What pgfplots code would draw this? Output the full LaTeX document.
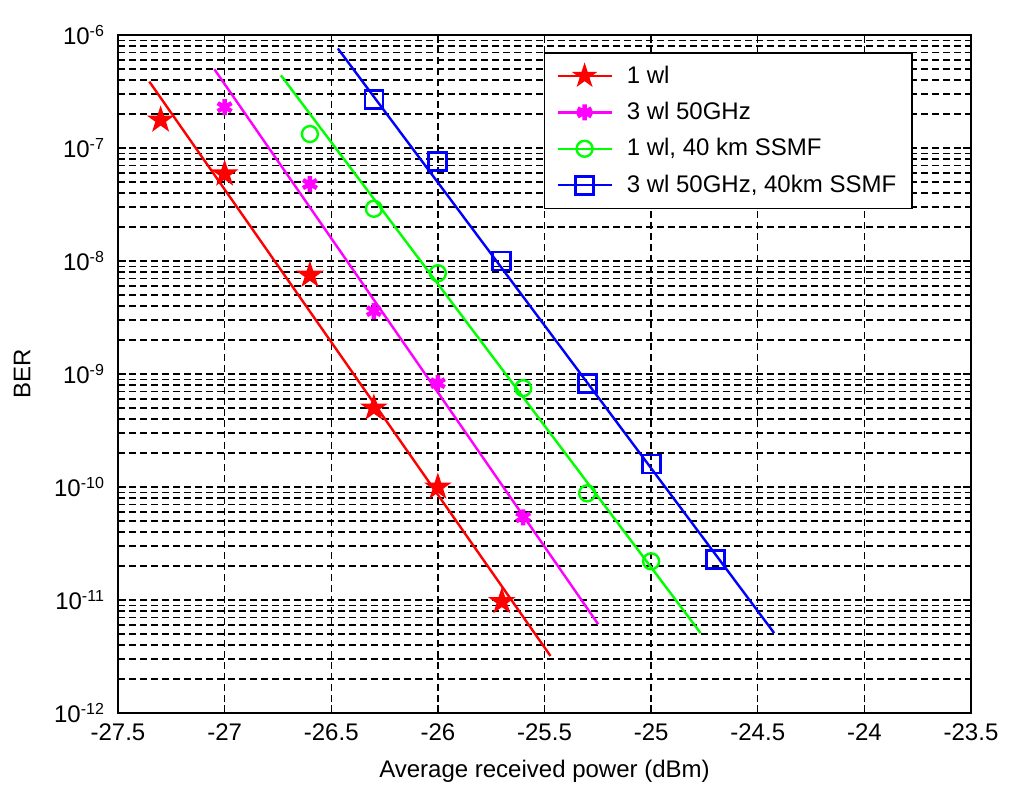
\documentclass[border=0pt]{standalone}
\usepackage{pgfplots}
\pgfplotsset{compat=1.18}
\usepackage{fontspec}
\setmainfont{Liberation Sans}

\definecolor{mred}{rgb}{1,0,0}
\definecolor{mmag}{rgb}{1,0,1}
\definecolor{mgreen}{rgb}{0,1,0}
\definecolor{mblue}{rgb}{0,0,1}

% five-pointed star marker
\pgfdeclareplotmark{pentagram}{%
  \pgfpathmoveto{\pgfpointpolar{90}{\pgfplotmarksize}}%
  \pgfpathlineto{\pgfpointpolar{126}{0.382*\pgfplotmarksize}}%
  \pgfpathlineto{\pgfpointpolar{162}{\pgfplotmarksize}}%
  \pgfpathlineto{\pgfpointpolar{198}{0.382*\pgfplotmarksize}}%
  \pgfpathlineto{\pgfpointpolar{234}{\pgfplotmarksize}}%
  \pgfpathlineto{\pgfpointpolar{270}{0.382*\pgfplotmarksize}}%
  \pgfpathlineto{\pgfpointpolar{306}{\pgfplotmarksize}}%
  \pgfpathlineto{\pgfpointpolar{342}{0.382*\pgfplotmarksize}}%
  \pgfpathlineto{\pgfpointpolar{18}{\pgfplotmarksize}}%
  \pgfpathlineto{\pgfpointpolar{54}{0.382*\pgfplotmarksize}}%
  \pgfpathclose
  \pgfusepathqfillstroke
}

\newcommand{\chartfont}{\fontsize{12}{14}\selectfont}

\begin{document}
\begin{tikzpicture}
\useasboundingbox (-59pt,-35.5pt) rectangle (446pt,356.5pt);
\begin{axis}[
  scale only axis,
  width=426.5pt, height=339pt,
  xmin=-27.5, xmax=-23.5,
  ymin=1e-12, ymax=1e-6,
  ymode=log, log basis y=10,
  xtick={-27.5,-27,-26.5,-26,-25.5,-25,-24.5,-24,-23.5},
  ytick={1e-12,1e-11,1e-10,1e-9,1e-8,1e-7,1e-6},
  minor ytick={2e-12,3e-12,4e-12,5e-12,6e-12,7e-12,8e-12,9e-12,
               2e-11,3e-11,4e-11,5e-11,6e-11,7e-11,8e-11,9e-11,
               2e-10,3e-10,4e-10,5e-10,6e-10,7e-10,8e-10,9e-10,
               2e-9,3e-9,4e-9,5e-9,6e-9,7e-9,8e-9,9e-9,
               2e-8,3e-8,4e-8,5e-8,6e-8,7e-8,8e-8,9e-8,
               2e-7,3e-7,4e-7,5e-7,6e-7,7e-7,8e-7,9e-7},
  xmajorgrids, ymajorgrids, yminorgrids,
  grid style={black, line width=0.7pt, dash pattern=on 3.5pt off 2pt},
  minor grid style={black, line width=0.7pt, dash pattern=on 3.5pt off 2pt},
  axis line style={black, line width=0.8pt},
  tick style={black, line width=0.7pt},
  major tick length=4pt, minor tick length=2.5pt,
  tick align=inside,
  /pgf/number format/assume math mode=true,
  ticklabel style={font=\chartfont},
  yticklabel={10\textsuperscript{\pgfmathparse{int(round(\tick))}\pgfmathresult}},
  yticklabel style={xshift=-3pt},
  xticklabel style={yshift=-2pt},
  xlabel={Average received power (dBm)},
  ylabel={BER},
  label style={font=\chartfont},
  xlabel style={at={(axis description cs:0.5,-0.0855)}, anchor=center},
  ylabel style={at={(axis description cs:-0.1125,0.5)}, anchor=center},
  legend cell align=left,
  legend style={at={(axis description cs:0.932,0.975)}, anchor=north east,
    draw=black, line width=0.8pt, font=\chartfont, fill=white,
    inner xsep=6pt, inner ysep=4.5pt, row sep=4pt},
]

% fitted lines (legend entries)
\addplot[mred, line width=1.2pt,
  legend image code/.code={
    \draw[mred, line width=1.2pt] (0pt,0pt) -- (27pt,0pt);
    \draw[mred, fill=mred, line width=0.8pt] plot[only marks, mark=pentagram, mark size=5.5pt] coordinates {(13.5pt,0pt)};
    \path (32pt,0pt);
  }] coordinates {(-27.353,3.87e-7) (-25.472,3.2e-12)};
\addlegendentry{1 wl}

\addplot[mmag, line width=1.2pt,
  legend image code/.code={
    \draw[mmag, line width=1.2pt] (0pt,0pt) -- (27pt,0pt);
    \draw[mmag, line width=2.2pt] plot[only marks, mark=asterisk, mark size=4pt] coordinates {(13.5pt,0pt)};
    \path (32pt,0pt);
  }] coordinates {(-27.048,4.98e-7) (-25.248,6.1e-12)};
\addlegendentry{3 wl 50GHz}

\addplot[mgreen, line width=1.2pt,
  legend image code/.code={
    \draw[mgreen, line width=1.2pt] (0pt,0pt) -- (27pt,0pt);
    \draw[mgreen, line width=1.2pt] plot[only marks, mark=o, mark size=4pt] coordinates {(13.5pt,0pt)};
    \path (32pt,0pt);
  }] coordinates {(-26.736,4.4e-7) (-24.768,5.1e-12)};
\addlegendentry{1 wl, 40 km SSMF}

\addplot[mblue, line width=1.2pt,
  legend image code/.code={
    \draw[mblue, line width=1.2pt] (0pt,0pt) -- (27pt,0pt);
    \draw[mblue, line width=1.4pt] plot[only marks, mark=square, mark size=4.5pt] coordinates {(13.5pt,0pt)};
    \path (32pt,0pt);
  }] coordinates {(-26.469,7.6e-7) (-24.423,5.1e-12)};
\addlegendentry{3 wl 50GHz, 40km SSMF}

% measured points
\addplot[forget plot, only marks, mred, mark=pentagram, mark size=6pt,
  mark options={fill=mred, line width=0.8pt}] coordinates {
  (-27.3,1.77e-7) (-27.0,5.9e-8) (-26.6,7.5e-9) (-26.3,5.0e-10) (-26.0,1.0e-10) (-25.7,9.7e-12)};

\addplot[forget plot, only marks, mmag, mark=asterisk, mark size=4pt,
  mark options={line width=2.2pt}] coordinates {
  (-27.0,2.3e-7) (-26.6,4.8e-8) (-26.3,3.6e-9) (-26.0,8.3e-10) (-25.6,5.4e-11)};

\addplot[forget plot, only marks, mgreen, mark=o, mark size=4pt,
  mark options={line width=1.2pt}] coordinates {
  (-26.6,1.33e-7) (-26.3,2.9e-8) (-26.0,7.8e-9) (-25.6,7.5e-10) (-25.3,8.8e-11) (-25.0,2.2e-11)};

\addplot[forget plot, only marks, mblue, mark=square, mark size=4.5pt,
  mark options={line width=1.4pt}] coordinates {
  (-26.3,2.7e-7) (-26.0,7.6e-8) (-25.7,1.0e-8) (-25.3,8.2e-10) (-25.0,1.6e-10) (-24.7,2.3e-11)};

\end{axis}
\end{tikzpicture}
\end{document}
